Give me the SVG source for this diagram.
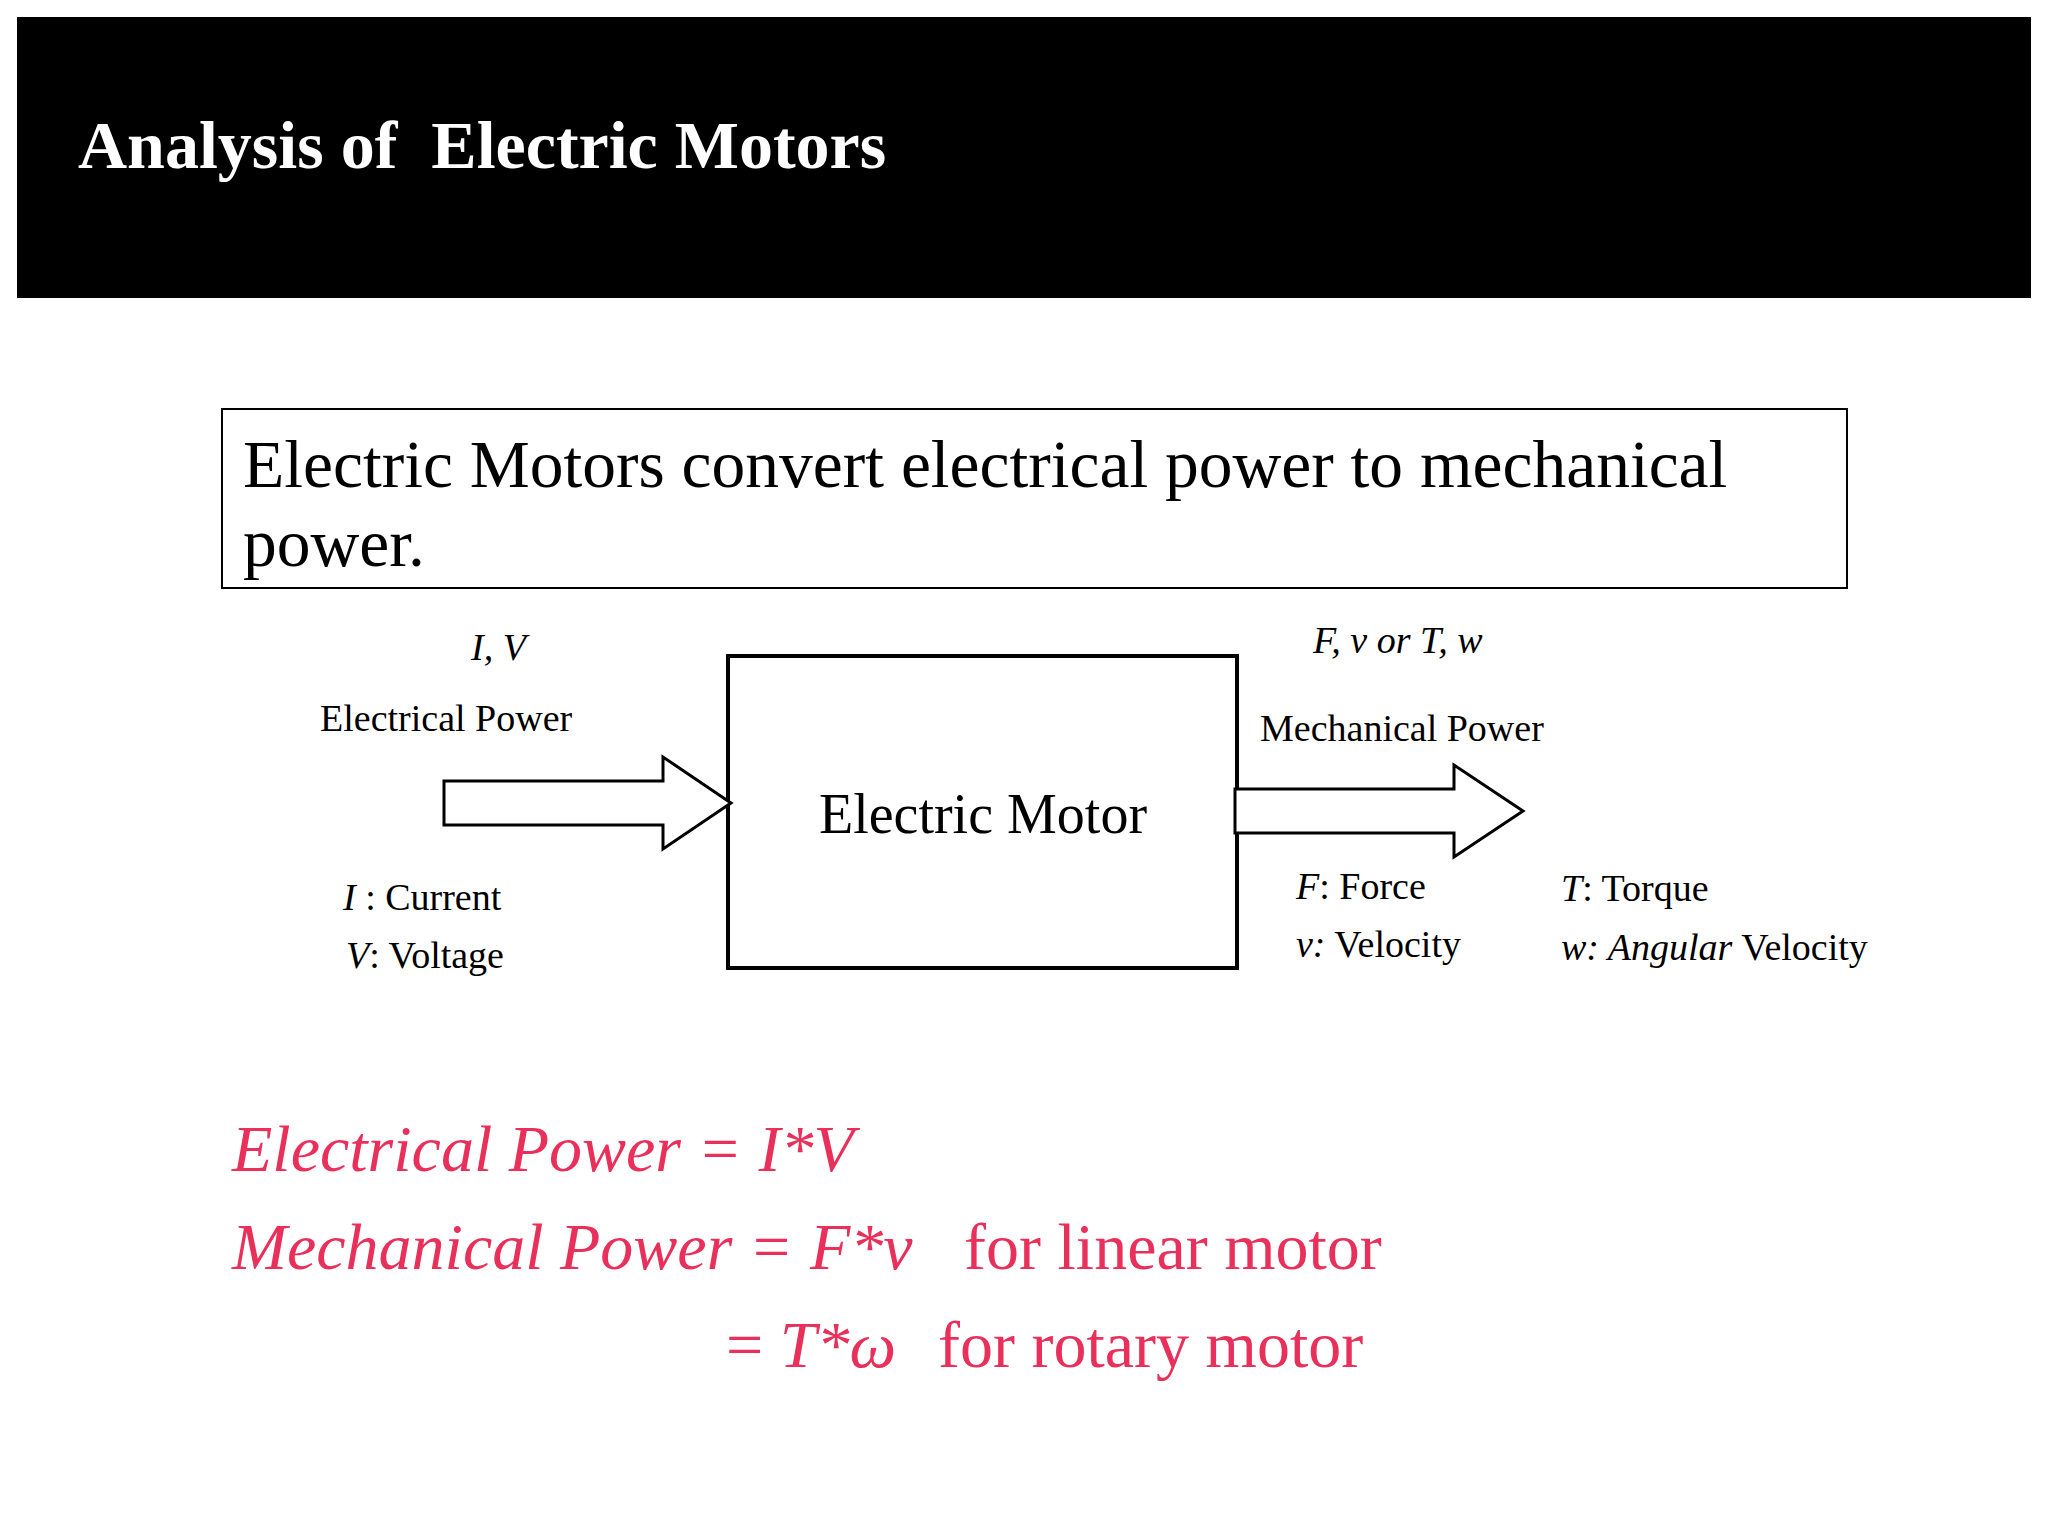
<svg xmlns="http://www.w3.org/2000/svg" width="2048" height="1536" viewBox="0 0 2048 1536">
<style>
text{font-family:"Liberation Serif","Times New Roman",serif;fill:#000}
.lab{font-size:38px}
.i{font-style:italic}
.red{fill:#e8305a;font-size:66px}
.arrow{fill:#fff;stroke:#000;stroke-width:3}
</style>
<rect x="0" y="0" width="2048" height="1536" fill="#fff"/>
<g id="header">
<rect x="17" y="17" width="2014" height="281" fill="#000"/>
<text x="78" y="168" xml:space="preserve" style="fill:#fff;font-size:68px;font-weight:bold">Analysis of  Electric Motors</text>
</g>
<g id="statement">
<rect x="222" y="409" width="1625" height="179" fill="#fff" stroke="#000" stroke-width="2"/>
<text x="243" y="487" style="font-size:67.5px">Electric Motors convert electrical power to mechanical</text>
<text x="243" y="566" style="font-size:67.5px">power.</text>
</g>
<g id="motor">
<rect x="728" y="656" width="509" height="312" fill="#fff" stroke="#000" stroke-width="4"/>
<text x="983" y="833" text-anchor="middle" style="font-size:56px">Electric Motor</text>
</g>
<g id="connectors">
<polygon class="arrow" points="444,781 663,781 663,757 731,803 663,849 663,825 444,825"/>
<polygon class="arrow" points="1235,789 1454,789 1454,765 1523,811 1454,857 1454,833 1235,833"/>
</g>
<g id="labels">
<text x="471" y="660" class="lab i">I, V</text>
<text x="320" y="731" class="lab">Electrical Power</text>
<text x="343" y="910" class="lab"><tspan class="i">I</tspan> : Current</text>
<text x="346" y="968" class="lab"><tspan class="i">V</tspan>: Voltage</text>
<text x="1313" y="653" class="lab i">F, v or T, w</text>
<text x="1260" y="741" class="lab">Mechanical Power</text>
<text x="1296" y="899" class="lab"><tspan class="i">F</tspan>: Force</text>
<text x="1296" y="957" class="lab"><tspan class="i">v:</tspan> Velocity</text>
<text x="1561" y="901" class="lab"><tspan class="i">T</tspan>: Torque</text>
<text x="1561" y="960" class="lab"><tspan class="i">w: Angular</tspan> Velocity</text>
</g>
<g id="equations">
<text x="232" y="1171" class="red i">Electrical Power = I*V</text>
<text x="232" y="1269" class="red"><tspan class="i">Mechanical Power = F*v</tspan><tspan x="964">for linear motor</tspan></text>
<text x="726" y="1367" class="red"><tspan>= </tspan><tspan class="i">T*ω</tspan><tspan x="938">for rotary motor</tspan></text>
</g>
</svg>
